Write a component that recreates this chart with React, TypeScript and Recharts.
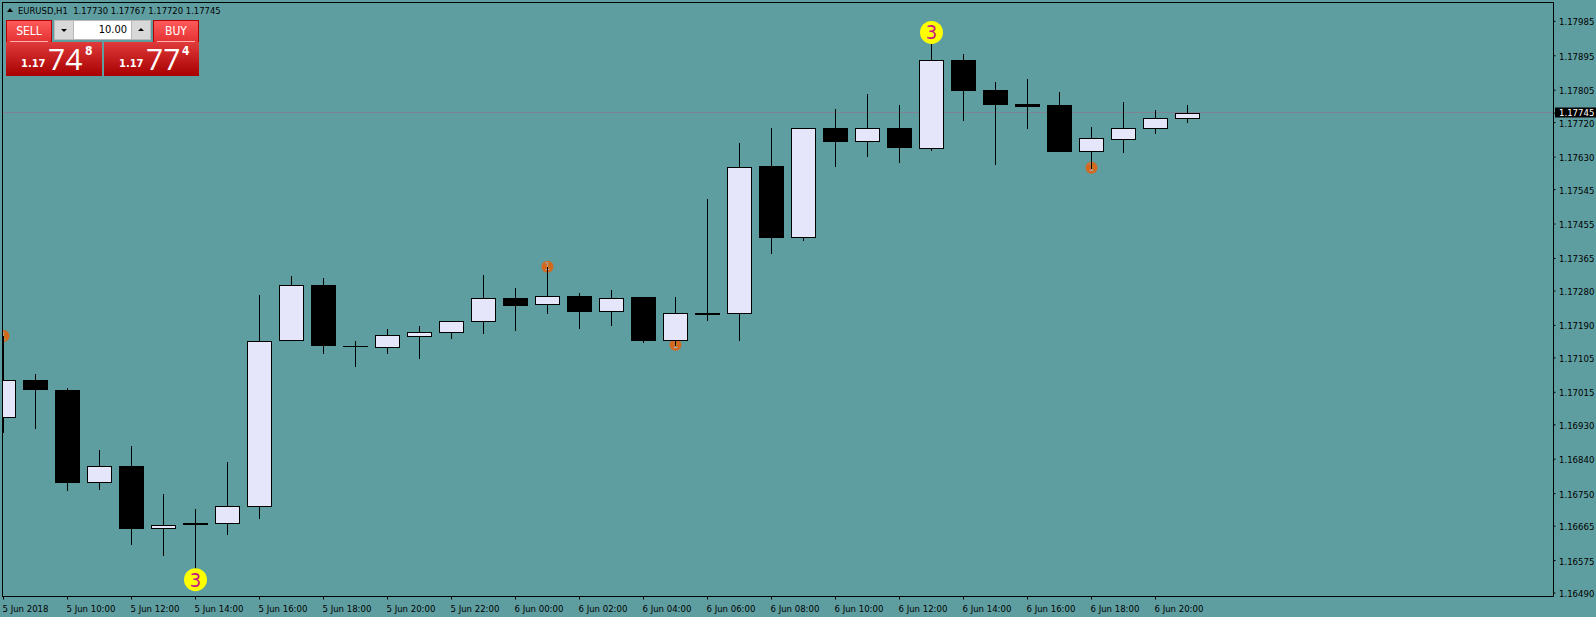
import { Bar, ComposedChart, ReferenceLine, Scatter, XAxis, YAxis } from 'recharts';

const FONT = "'DejaVu Sans Condensed', 'DejaVu Sans', sans-serif";
const BG = '#5F9EA0';

const opens = [
    1.16948, 1.17047, 1.17021, 1.16778, 1.16822, 1.16657, 1.16673, 1.1667, 1.16715, 1.17149, 1.17295, 1.17136, 1.17131,
    1.17159, 1.1717, 1.17199, 1.17261, 1.17243, 1.17267, 1.17225, 1.17264, 1.17149, 1.17222, 1.1722, 1.17607, 1.17418,
    1.17706, 1.17669, 1.17706, 1.17651, 1.17884, 1.17805, 1.17769, 1.17766, 1.17643, 1.17675, 1.17703, 1.1773,
];
const highs = [
    1.17162, 1.17063, 1.17026, 1.16864, 1.16874, 1.16749, 1.1671, 1.16833, 1.17269, 1.17319, 1.17314, 1.17149, 1.1718,
    1.17188, 1.17201, 1.17322, 1.17288, 1.17343, 1.17275, 1.17282, 1.17264, 1.17264, 1.1752, 1.17667, 1.17706, 1.17706,
    1.17756, 1.17795, 1.17766, 1.17936, 1.179, 1.17826, 1.17834, 1.178, 1.17709, 1.17774, 1.17753, 1.17767,
];
const lows = [
    1.16908, 1.16919, 1.16757, 1.16759, 1.16616, 1.16587, 1.16542, 1.16642, 1.16684, 1.17149, 1.17115, 1.17081, 1.17115,
    1.17102, 1.17154, 1.17167, 1.17175, 1.1722, 1.1718, 1.17188, 1.17144, 1.17136, 1.17201, 1.17149, 1.17377, 1.17411,
    1.17604, 1.1763, 1.17615, 1.17646, 1.17724, 1.17609, 1.17703, 1.17643, 1.17599, 1.17641, 1.1769, 1.1772,
];
const closes = [
    1.17047, 1.17021, 1.16778, 1.16822, 1.16657, 1.16668, 1.16668, 1.16718, 1.17149, 1.17295, 1.17136, 1.17136,
    1.17165, 1.17173, 1.17201, 1.17261, 1.17241, 1.17267, 1.17225, 1.17261, 1.17149, 1.17222, 1.17217, 1.17604, 1.17418,
    1.17706, 1.17669, 1.17706, 1.17654, 1.17884, 1.17803, 1.17766, 1.17761, 1.17643, 1.1768, 1.17706, 1.17732, 1.17745,
];

const priceTicks = [
    1.17985, 1.17895, 1.17805, 1.17745, 1.1772, 1.1763, 1.17545, 1.17455, 1.17365, 1.1728, 1.1719, 1.17105, 1.17015,
    1.1693, 1.1684, 1.1675, 1.16665, 1.16575, 1.1649,
];
const timeTicks = [0, 2, 4, 6, 8, 10, 12, 14, 16, 18, 20, 22, 24, 26, 28, 30, 32, 34, 36];
const timeLabels = [
    '5 Jun 2018', '5 Jun 10:00', '5 Jun 12:00', '5 Jun 14:00', '5 Jun 16:00', '5 Jun 18:00', '5 Jun 20:00', '5 Jun 22:00',
    '6 Jun 00:00', '6 Jun 02:00', '6 Jun 04:00', '6 Jun 06:00', '6 Jun 08:00', '6 Jun 10:00', '6 Jun 12:00', '6 Jun 14:00',
    '6 Jun 16:00', '6 Jun 18:00', '6 Jun 20:00',
];

const lastPrice = 1.17745;

const oneMarkers = [
    { i: 0, price: 1.17162 },
    { i: 17, price: 1.17343 },
    { i: 21, price: 1.17139 },
    { i: 34, price: 1.17602 },
];
const threeMarkers = [
    { i: 6, price: 1.16525 },
    { i: 29, price: 1.17956 },
];

const candles = opens.map((open, i) => ({
    i,
    open,
    close: closes[i],
    high: highs[i],
    low: lows[i],
    range: [lows[i], highs[i]],
}));

function Candle(props: any) {
    const { x, y, width, height, payload } = props;
    const { open, close, high, low } = payload;
    const k = height / (high - low);
    const p = Math.floor(x + width / 2);
    const top = Math.round(y + (high - Math.max(open, close)) * k);
    const bot = Math.round(y + (high - Math.min(open, close)) * k);
    const bodyH = bot - top - 1;
    return (
        <g>
            <line x1={p + 0.5} x2={p + 0.5} y1={Math.round(y)} y2={Math.round(y + height)} stroke='#000' />
            {bodyH > 0 ? (
                <rect x={p - 11.5} y={top + 0.5} width={24} height={bodyH} fill={close > open ? '#E6E6FA' : '#000'} stroke='#000' shapeRendering='crispEdges' />
            ) : (
                // doji, the body is only the outline
                <line x1={p - 12} x2={p + 13} y1={top + 0.5} y2={top + 0.5} stroke='#000' />
            )}
        </g>
    );
}

function PriceLine({ x1, x2, y1 }: any) {
    const y = Math.round(y1) - 0.5;
    return <line x1={x1} x2={x2} y1={y} y2={y} stroke='#7F8293' />;
}

function OneMark({ cx, cy }: any) {
    return (
        <g>
            <circle cx={cx} cy={cy} r={6} fill='#D2691E' />
            <text x={cx} y={cy + 3.5} textAnchor='middle' fontSize={10} fontFamily={FONT} fill='#A9A9A9'>
                1
            </text>
        </g>
    );
}

function ThreeMark({ cx, cy }: any) {
    return (
        <g>
            <circle cx={cx} cy={cy} r={11.5} fill='#FFFF00' />
            <text x={cx} y={cy + 7} textAnchor='middle' fontSize={20} fontFamily={FONT} fill='#C71585'>
                3
            </text>
        </g>
    );
}

function PriceTick({ y, payload }: any) {
    const last = payload.value === lastPrice;
    const cy = Math.round(y) + 0.5;
    return (
        <g>
            {last && <rect x={1555} y={cy - 6} width={41} height={10} fill='#000' />}
            <text x={1559} y={cy + (last ? 2.5 : 3.5)} fontSize={9.5} fontFamily={FONT} fill={last ? '#fff' : '#000'}>
                {payload.value.toFixed(5)}
            </text>
        </g>
    );
}

function TimeTick({ x, payload }: any) {
    return (
        <text x={x - 1} y={612} fontSize={9.5} fontFamily={FONT} fill='#000'>
            {timeLabels[timeTicks.indexOf(payload.value)]}
        </text>
    );
}

const red = 'linear-gradient(#ff5a5a, #e23030)';
const darkRed = 'linear-gradient(#e03a3a, #a80000)';

function Box({ left, top, width, height, style, children }: any) {
    return <div style={{ position: 'absolute', left, top, width, height, boxSizing: 'border-box', ...style }}>{children}</div>;
}

function TradeButton({ left, label }: any) {
    return (
        <Box left={left} top={20} width={46} height={23} style={{ background: red, border: '1px solid #b00000', borderBottom: 'none' }}>
            <Box left={3} top={20} width={38} height={1} style={{ background: '#ffb0b0' }} />
            <Box left={0} top={3} width={44} height={15} style={{ color: '#fff', fontSize: 12, textAlign: 'center', lineHeight: '15px' }}>
                {label}
            </Box>
        </Box>
    );
}

function Quote({ left, width, big, small }: any) {
    const text = { position: 'absolute', color: '#fff', whiteSpace: 'nowrap' } as const;
    return (
        <Box left={left} top={42} width={width} height={34} style={{ background: darkRed }}>
            <span style={{ ...text, left: 15, top: 15, fontSize: 11, fontWeight: 'bold', lineHeight: '14px' }}>1.17</span>
            <span style={{ ...text, left: 42, top: 0, fontSize: 30, fontFamily: "'Open Sans'", fontWeight: 400, lineHeight: '34px' }}>{big}</span>
            <span style={{ ...text, left: width - 17, top: 2, fontSize: 12, fontWeight: 'bold', lineHeight: '14px' }}>{small}</span>
        </Box>
    );
}

function TradePanel() {
    return (
        <div style={{ fontFamily: FONT }}>
            <Box left={7} top={8} width={0} height={0} style={{ borderLeft: '3.5px solid transparent', borderRight: '3.5px solid transparent', borderBottom: '4px solid #000' }} />
            <Box left={18} top={4} width={240} height={13} style={{ fontSize: 9.4, lineHeight: '13px', color: '#000', whiteSpace: 'pre' }}>
                {'EURUSD,H1  1.17730 1.17767 1.17720 1.17745'}
            </Box>
            <TradeButton left={6} label='SELL' />
            <TradeButton left={153} label='BUY' />
            <Box left={54} top={20} width={97} height={20} style={{ background: '#fff', border: '1px solid #b8b8b8' }}>
                <Box left={0} top={0} width={19} height={18} style={{ background: '#d8d8d8', borderRight: '1px solid #b8b8b8' }}>
                    <Box left={6} top={8} width={0} height={0} style={{ borderLeft: '3.5px solid transparent', borderRight: '3.5px solid transparent', borderTop: '3px solid #000' }} />
                </Box>
                <Box left={76} top={0} width={19} height={18} style={{ background: '#d8d8d8', borderLeft: '1px solid #b8b8b8' }}>
                    <Box left={6} top={7} width={0} height={0} style={{ borderLeft: '3.5px solid transparent', borderRight: '3.5px solid transparent', borderBottom: '3px solid #000' }} />
                </Box>
                <Box left={19} top={0} width={53} height={18} style={{ textAlign: 'right', fontSize: 11, lineHeight: '18px', color: '#000' }}>
                    10.00
                </Box>
            </Box>
            <Quote left={6} width={96} big='74' small='8' />
            <Quote left={104} width={95} big='77' small='4' />
        </div>
    );
}

export default function App() {
    return (
        <div style={{ position: 'absolute', left: 0, top: 0, width: 1596, height: 617, background: BG, overflow: 'hidden' }}>
            <ComposedChart width={1596} height={617} data={candles} margin={{ top: 3, right: 0, bottom: 0, left: 3 }}>
                <XAxis
                    dataKey='i'
                    type='number'
                    domain={[-0.015625, 48.4375]}
                    allowDataOverflow
                    ticks={timeTicks}
                    interval={0}
                    height={20.5}
                    tickSize={3}
                    stroke='#000'
                    tick={<TimeTick />}
                />
                <YAxis
                    orientation='right'
                    type='number'
                    domain={[1.16481, 1.18033]}
                    allowDataOverflow
                    ticks={priceTicks}
                    interval={0}
                    width={42.5}
                    tickSize={2}
                    stroke='#000'
                    tick={<PriceTick />}
                />
                <ReferenceLine y={lastPrice} zIndex={100} shape={<PriceLine />} />
                <Scatter data={oneMarkers} dataKey='price' zIndex={200} isAnimationActive={false} shape={<OneMark />} />
                <Bar dataKey='range' barSize={25} zIndex={300} isAnimationActive={false} shape={<Candle />} />
                <Scatter data={threeMarkers} dataKey='price' zIndex={600} isAnimationActive={false} shape={<ThreeMark />} />
            </ComposedChart>
            <div style={{ position: 'absolute', left: 2, top: 2, width: 1551, height: 594, borderLeft: '1px solid #000', borderTop: '1px solid #000' }} />
            <TradePanel />
        </div>
    );
}
